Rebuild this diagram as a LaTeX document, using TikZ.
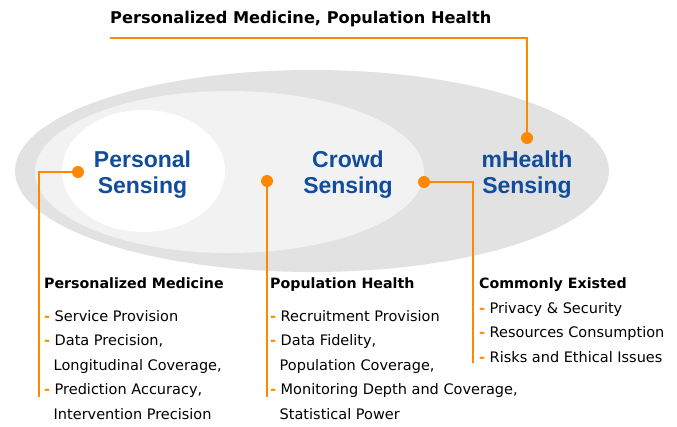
\documentclass[tikz,border=0pt]{standalone}
\usepackage{fontspec}
\setmainfont{DejaVu Sans}
\newfontfamily\labelfont{Liberation Sans}
\usepackage{tikz}

\definecolor{leadorange}{RGB}{255,136,0}
\definecolor{sensblue}{RGB}{17,77,155}
\definecolor{outergray}{RGB}{226,226,226}
\definecolor{midgray}{RGB}{242,242,242}

\newcommand{\itm}[1]{\textcolor{leadorange}{\bfseries -}\hspace{4.5pt}#1}
\newcommand{\cont}{\hspace{9.5pt}}

\begin{document}
\begin{tikzpicture}[
        x=1pt, y=-1pt,
        sensing/.style={
          font=\labelfont\bfseries\fontsize{23}{26}\selectfont,
          text=sensblue,
          align=center,
          inner sep=0,
          anchor=base
        },
        lead/.style={draw=leadorange, line width=2pt},
        dot/.style={circle, fill=leadorange, minimum size=12pt, inner sep=0},
        heading/.style={
          font=\bfseries\fontsize{14.2}{17}\selectfont,
          inner sep=0,
          anchor=base west
        },
        itemlist/.style={
          font=\fontsize{14.5}{24.5}\selectfont,
          align=left,
          inner sep=0,
          anchor=base west
        }
    ]
    \useasboundingbox (0,0) rectangle (677,426);

    % Nested ellipses
    \fill[outergray] (312,171) ellipse [x radius=297, y radius=101];
    \fill[midgray] (229.5,172) ellipse [x radius=194.5, y radius=81];
    \fill[white] (143.5,171) ellipse [x radius=81.5, y radius=61];

    % Sensing labels (base = last line)
    \node[sensing] (personal) at (142.5,193) {Personal\\Sensing};
    \node[sensing] (crowd) at (348,193) {Crowd\\Sensing};
    \node[sensing] (mhealth) at (527,193) {mHealth\\Sensing};

    % Title
    \node[font=\bfseries\fontsize{16.2}{19}\selectfont, inner sep=0, anchor=base west]
      (title) at (110,23) {Personalized Medicine, Population Health};

    % Dots and leader ends
    \node[dot] (topDot) at (527,138) {};
    \node[dot] (personalDot) at (78,172) {};
    \node[dot] (crowdDot) at (267,181) {};
    \node[dot] (mhealthDot) at (424,182) {};
    \coordinate (topEnd) at (110,38);
    \coordinate (personalEnd) at (39,397);
    \coordinate (crowdEnd) at (267,397);
    \coordinate (mhealthEnd) at (473,363);

    % Leader lines
    \draw[lead] (topDot) |- (topEnd);
    \draw[lead] (personalDot) -| (personalEnd);
    \draw[lead] (crowdDot) -- (crowdEnd);
    \draw[lead] (mhealthDot) -| (mhealthEnd);

    % Lists (base = last line)
    \node[heading] (pmHead) at (44,288) {Personalized Medicine};
    \node[itemlist] (pmList) at (44,419) {\itm{Service Provision}\\
      \itm{Data Precision,}\\ \cont Longitudinal Coverage,\\
      \itm{Prediction Accuracy,}\\ \cont Intervention Precision};

    \node[heading] (phHead) at (270,288) {Population Health};
    \node[itemlist] (phList) at (270,419) {\itm{Recruitment Provision}\\
      \itm{Data Fidelity,}\\ \cont Population Coverage,\\
      \itm{Monitoring Depth and Coverage,}\\ \cont Statistical Power};

    \node[heading] (ceHead) at (479,288) {Commonly Existed};
    \node[itemlist] (ceList) at (479,362) {\itm{Privacy \& Security}\\
      \itm{Resources Consumption}\\ \itm{Risks and Ethical Issues}};

\end{tikzpicture}
\end{document}
